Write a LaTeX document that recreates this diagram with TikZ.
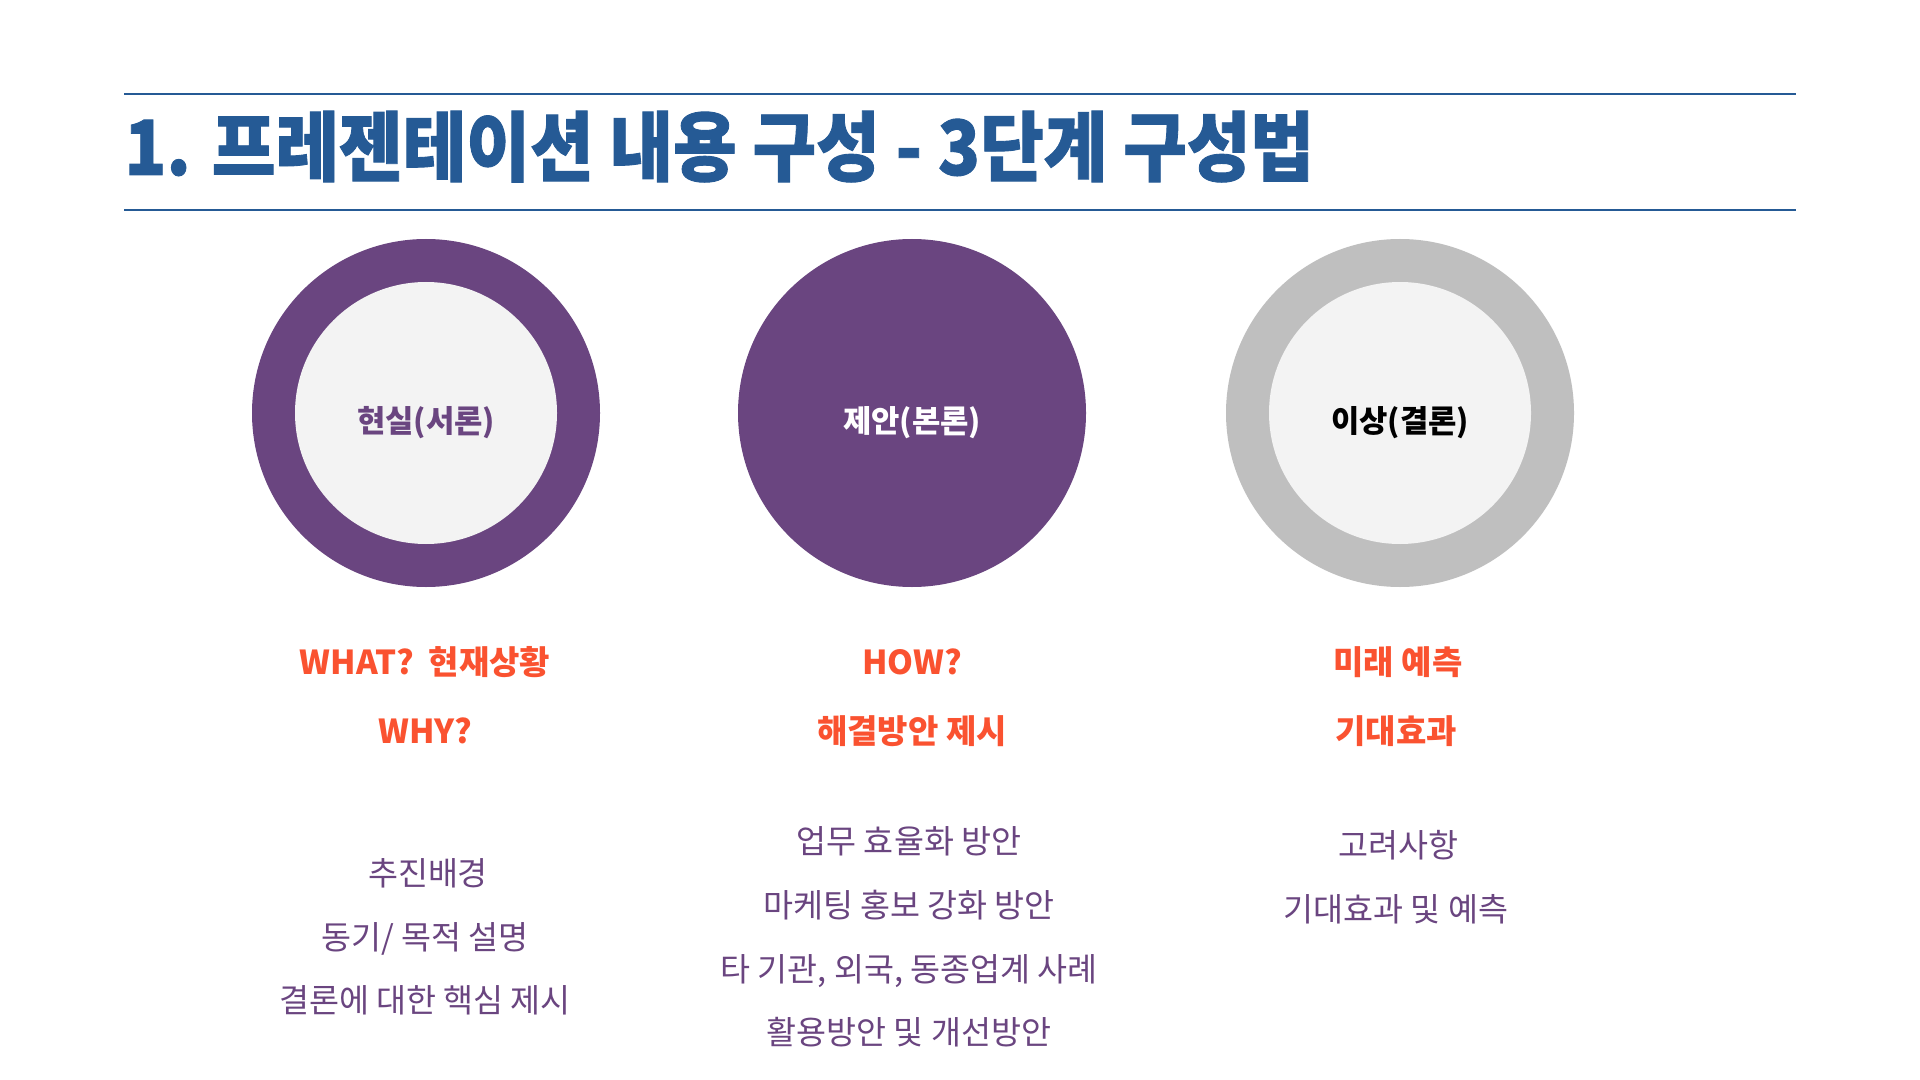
\documentclass[tikz,border=0pt]{standalone}
\usepackage{fontspec}
\newfontfamily\kr{Noto Sans CJK KR}
\newfontfamily\krtitle[FakeBold=1.2]{Noto Sans CJK KR}
\definecolor{purp}{HTML}{6A4580}
\definecolor{orng}{HTML}{FA5230}
\definecolor{tblue}{HTML}{255A95}
\definecolor{ringgray}{HTML}{BFBFBF}
\definecolor{innergray}{HTML}{F3F3F3}
\begin{document}
\begin{tikzpicture}[x=0.5pt,y=-0.5pt,
  ring/.style={circle,inner sep=0pt,outer sep=0pt,minimum size=174pt,draw=none},
  hole/.style={circle,inner sep=0pt,outer sep=0pt,minimum size=131pt,draw=none,fill=innergray},
  clabel/.style={font=\kr\bfseries\fontsize{15.4}{18}\selectfont,inner sep=0pt,text height=0.8em,text depth=0.12em},
  head/.style={font=\kr\bfseries\fontsize{16.5}{19}\selectfont,text=orng,inner sep=0pt,text height=0.8em,text depth=0.12em},
  body/.style={font=\kr\fontsize{16.3}{19}\selectfont,text=purp,inner sep=0pt,text height=0.8em,text depth=0.12em},
  rule/.style={draw=tblue,line width=1pt}]
\useasboundingbox[fill=white] (0,0) rectangle (1920,1080);
% title rules
\coordinate (l1a) at (124,94);
\coordinate (l1b) at (1796,94);
\coordinate (l2a) at (124,210);
\coordinate (l2b) at (1796,210);
\draw[rule] (l1a) -- (l1b);
\draw[rule] (l2a) -- (l2b);
\node[anchor=base west,inner sep=0pt,text=tblue,font=\krtitle\bfseries\fontsize{38}{40}\selectfont] (title) at (124,175)
  {\scalebox{0.91}[1]{1. 프레젠테이션 내용 구성 - 3단계 구성법}};
% circles
\node[ring,fill=purp] (c1) at (426,413) {};
\node[hole] (h1) at (426,413) {};
\node[clabel,text=purp] (t1) at (426,426) {현실(서론)};
\node[ring,fill=purp] (c2) at (912,413) {};
\node[clabel,text=white] (t2) at (912,426) {제안(본론)};
\node[ring,fill=ringgray] (c3) at (1400,413) {};
\node[hole] (h3) at (1400,413) {};
\node[clabel,text=black] (t3) at (1400,426) {이상(결론)};
% orange headings
\node[head] (a1) at (425,668) {WHAT?\ \ 현재상황};
\node[head] (a2) at (425,737) {WHY?};
\node[head] (b1) at (912,668) {HOW?};
\node[head] (b2) at (912,737) {해결방안 제시};
\node[head] (d1) at (1398,668) {미래 예측};
\node[head] (d2) at (1396,737) {기대효과};
% body texts
\node[body] (p1) at (428,879) {추진배경};
\node[body] (p2) at (425,943) {동기/ 목적 설명};
\node[body] (p3) at (425,1006) {결론에 대한 핵심 제시};
\node[body] (q1) at (909,847) {업무 효율화 방안};
\node[body] (q2) at (909,911) {마케팅 홍보 강화 방안};
\node[body] (q3) at (909,975) {타 기관, 외국, 동종업계 사례};
\node[body] (q4) at (909,1038) {활용방안 및 개선방안};
\node[body] (r1) at (1398,851) {고려사항};
\node[body] (r2) at (1396,915) {기대효과 및 예측};
\end{tikzpicture}
\end{document}
